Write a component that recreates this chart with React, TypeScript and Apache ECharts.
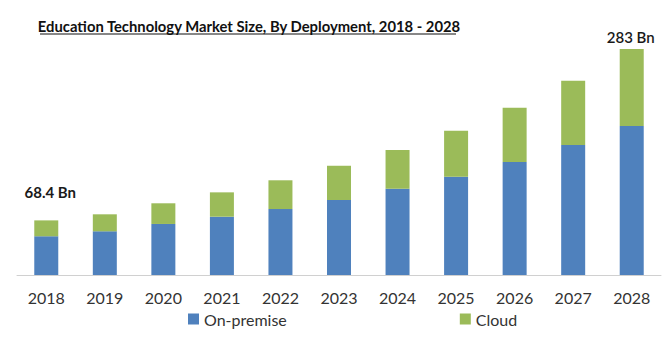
import React, { useEffect, useRef } from "react";
import * as echarts from "echarts";

const years = ["2018", "2019", "2020", "2021", "2022", "2023", "2024", "2025", "2026", "2027", "2028"];
const onPremise = [48.5, 54.7, 63.9, 73.0, 82.6, 93.9, 108.0, 123.1, 141.5, 162.8, 186.6];
const cloud = [19.9, 21.3, 25.9, 30.5, 36.0, 42.9, 48.5, 57.6, 68.0, 80.5, 96.4];
const firstLabel = "68.4 Bn";
const lastLabel = "283 Bn";
const titleText = "Education Technology Market Size, By Deployment, 2018 - 2028";

export default function App() {
  const ref = useRef<HTMLDivElement>(null);
  useEffect(() => {
    const chart = echarts.init(ref.current!, null, { renderer: "svg" });
    const font = "Lato, 'Open Sans', sans-serif";
    const cloudData = cloud.map((v, i) => {
      if (i === 0) {
        return {
          value: v,
          label: {
            show: true,
            position: "top",
            formatter: firstLabel,
            fontWeight: "bold",
            fontSize: 15,
            color: "#1a1a1a",
            fontFamily: font,
            offset: [4, -16],
          },
        };
      }
      if (i === cloud.length - 1) {
        return {
          value: v,
          label: {
            show: true,
            position: "top",
            formatter: lastLabel,
            fontSize: 15,
            fontWeight: 600,
            color: "#1a1a1a",
            fontFamily: font,
            offset: [-1, 0],
          },
        };
      }
      return v;
    });
    chart.setOption({
      animation: false,
      backgroundColor: "#ffffff",
      title: {
        text: titleText,
        left: 244,
        textAlign: "center",
        top: 13,
        textStyle: { fontFamily: font, fontSize: 14.8, fontWeight: "bold", color: "#111" },
      },
      graphic: [
        {
          type: "line",
          shape: { x1: 40, y1: 34, x2: 456, y2: 34 },
          style: { stroke: "#111", lineWidth: 1.2 },
        },
      ],
      legend: {
        bottom: 6,
        left: 183,
        itemWidth: 11,
        itemHeight: 11,
        itemGap: 173,
        icon: "rect",
        textStyle: { fontFamily: font, fontSize: 16, color: "#333" },
        data: ["On-premise", "Cloud"],
      },
      grid: { left: 17, right: 11, top: 49, bottom: 63, containLabel: false },
      xAxis: {
        type: "category",
        data: years,
        axisLine: { lineStyle: { color: "#d0d0d0" } },
        axisTick: { show: false },
        axisLabel: { fontFamily: font, fontSize: 16, color: "#333", margin: 14 },
      },
      yAxis: {
        type: "value",
        min: 0,
        max: 283,
        show: false,
        splitLine: { show: false },
      },
      series: [
        {
          name: "On-premise",
          type: "bar",
          stack: "total",
          barWidth: 24,
          data: onPremise,
          itemStyle: { color: "#4F81BD" },
        },
        {
          name: "Cloud",
          type: "bar",
          stack: "total",
          barWidth: 24,
          data: cloudData,
          itemStyle: { color: "#9BBB59" },
        },
      ],
    });
    return () => chart.dispose();
  }, []);
  return <div ref={ref} style={{ width: 672, height: 338, position: "absolute", left: 0, top: 0 }} />;
}
